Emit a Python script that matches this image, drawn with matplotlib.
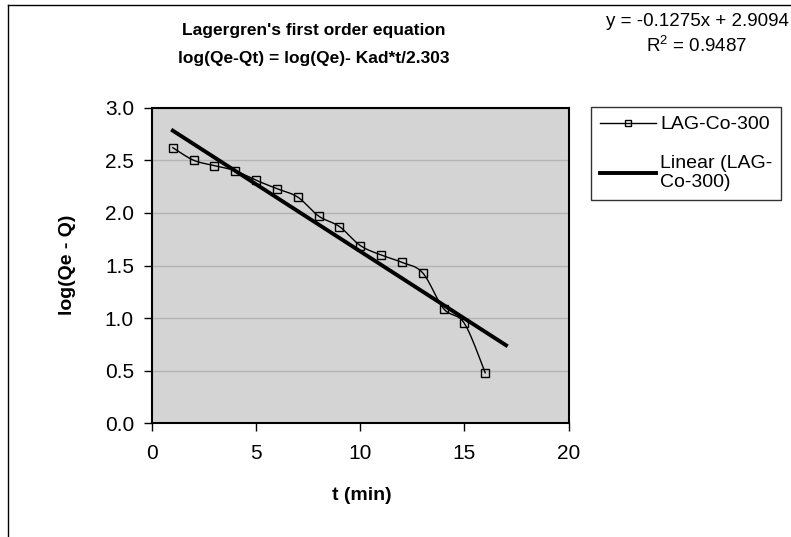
import numpy as np
import matplotlib
matplotlib.use('Agg')
from matplotlib import pyplot as plt
from matplotlib.lines import Line2D

plt.rcParams['font.family'] = ['Liberation Sans', 'DejaVu Sans']

# Kinetic data: time (min) vs log(Qe - Qt)
t = [1, 2, 3, 4, 5, 6, 7, 8, 9, 10, 11, 12, 13, 14, 15, 16]
log_q = [2.62, 2.50, 2.45, 2.40, 2.31, 2.23, 2.15, 1.97, 1.87, 1.69,
         1.60, 1.53, 1.43, 1.09, 0.95, 0.48]

# Linear trend line coefficients
slope = -0.1275
intercept = 2.9094
r2 = 0.9487
trend_x = [1, 17]

x_ticks = [0, 5, 10, 15, 20]
y_ticks = [0.0, 0.5, 1.0, 1.5, 2.0, 2.5, 3.0]


def smooth(xs, ys, n=20):
    # Catmull-Rom curve through the points, like a smoothed spreadsheet line
    p = np.column_stack([xs, ys]).astype(float)
    p = np.vstack([p[0], p, p[-1]])
    out = []
    for i in range(1, len(p) - 2):
        p0, p1, p2, p3 = p[i - 1], p[i], p[i + 1], p[i + 2]
        for s in np.linspace(0, 1, n, endpoint=False):
            out.append(0.5 * ((2 * p1) + (-p0 + p2) * s +
                              (2 * p0 - 5 * p1 + 4 * p2 - p3) * s ** 2 +
                              (-p0 + 3 * p1 - 3 * p2 + p3) * s ** 3))
    out.append(p[-2])
    out = np.array(out)
    return out[:, 0], out[:, 1]


W, H = 791, 537
fig = plt.figure(figsize=(W / 100, H / 100), dpi=100)

# chart area border
fig.add_artist(Line2D([8 / W, 8 / W], [0, 1 - 5 / H], color='black', lw=1, transform=fig.transFigure))
fig.add_artist(Line2D([8 / W, 1], [1 - 5 / H, 1 - 5 / H], color='black', lw=1, transform=fig.transFigure))

ax = fig.add_axes([152 / W, 1 - 423.3 / H, 416.5 / W, 315.6 / H])
ax.set_facecolor('#d4d4d4')

sx, sy = smooth(t, log_q)
ax.plot(sx, sy, color='black', lw=1, zorder=3)
ax.plot(t, log_q, ls='none', marker='s', ms=5.5, mfc='none', mec='black', mew=1, zorder=4)

tx = np.array(trend_x, dtype=float)
ax.plot(tx, slope * tx + intercept, color='black', lw=2.8, zorder=2)

ax.set_xlim(0, 20)
ax.set_ylim(0, 3)
ax.set_xticks(x_ticks)
ax.set_yticks(y_ticks)
ax.set_yticklabels(['%.1f' % v for v in y_ticks])
ax.grid(axis='y', color='#b4b4b4', lw=1)
ax.set_axisbelow(True)
ax.tick_params(direction='out', length=6, width=1, labelsize=15, colors='black')
ax.tick_params(axis='x', pad=9)
ax.tick_params(axis='y', pad=7)
for s in ax.spines.values():
    s.set_linewidth(1.5)

ax.set_xlabel('t (min)', fontsize=14, fontweight='bold')
ax.set_ylabel('log(Qe - Q)', fontsize=14, fontweight='bold')
ax.xaxis.set_label_coords((362 - 152) / 416.5, (423.3 - 495) / 315.6)
ax.xaxis.label.set_va('center')
ax.yaxis.set_label_coords((68 - 152) / 416.5, (423.3 - 265) / 315.6)
ax.yaxis.label.set_va('center')

fig.text(314 / W, 1 - 30 / H, "Lagergren's first order equation", ha='center', va='center',
         fontsize=12.5, fontweight='bold')
fig.text(314 / W, 1 - 59 / H, "log(Qe-Qt) = log(Qe)- Kad*t/2.303", ha='center', va='center',
         fontsize=12.5, fontweight='bold')

fig.text(697 / W, 1 - 21 / H, 'y = %.4fx + %.4f' % (slope, intercept), ha='center', va='center', fontsize=13.5)
fig.text(697 / W, 1 - 46 / H, '$\\mathregular{R^2}$ = %.4f' % r2, ha='center', va='center', fontsize=13.5)

handles = [Line2D([], [], color='black', lw=1, marker='s', ms=4.5, mfc='none', mec='black'),
           Line2D([], [], color='black', lw=2.8)]
leg = fig.legend(handles, ['LAG-Co-300', 'Linear (LAG-\nCo-300)'], loc='upper left',
                 bbox_to_anchor=(591 / W, 1 - 107 / H), fontsize=14, frameon=True,
                 fancybox=False, edgecolor='black', handlelength=2.9, handletextpad=0.2,
                 borderpad=0.45, labelspacing=1.1, borderaxespad=0)
leg.get_frame().set_linewidth(1)

fig.savefig('out.png', dpi=100)
